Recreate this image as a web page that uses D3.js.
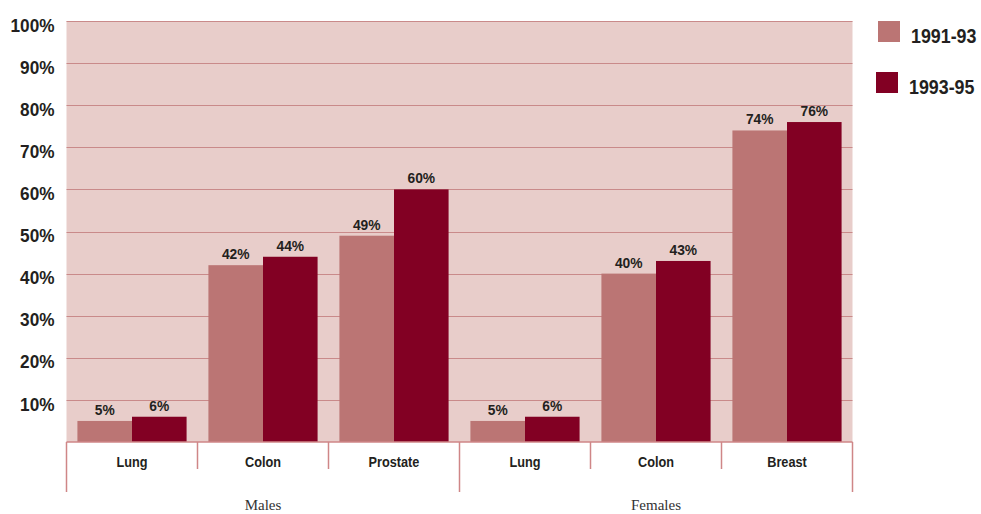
<!DOCTYPE html>
<html>
<head>
<meta charset="utf-8">
<script src="https://cdn.jsdelivr.net/npm/d3@7"></script>
<style>
  html, body { margin: 0; padding: 0; background: #ffffff; }
  svg { display: block; }
  .cond { font-family: "Liberation Sans", Arial, Helvetica, sans-serif; font-weight: bold; fill: #231f20; }
  .serif { font-family: "Liberation Serif", "Times New Roman", serif; fill: #333333; }
</style>
</head>
<body>
<svg id="chart" width="981" height="514"></svg>
<script>
// Survival rates by site, two periods
const categories = ["Lung", "Colon", "Prostate", "Lung", "Colon", "Breast"];
const groups = [
  { name: "Males", from: 0, to: 2 },
  { name: "Females", from: 3, to: 5 }
];
const seriesNames = ["1991-93", "1993-95"];
const values1991 = [5, 42, 49, 5, 40, 74];
const values1993 = [6, 44, 60, 6, 43, 76];
const yTicks = [10, 20, 30, 40, 50, 60, 70, 80, 90, 100];

const colors = ["#bb7574", "#820023"];
const plotBg = "#e8cdca";
const gridColor = "#c98a8a";
const sepColor = "#cf8687";

// narrow the bold face horizontally to a condensed look
function condense(sel, f) {
  sel.each(function () {
    const w = this.getComputedTextLength();
    d3.select(this).attr("textLength", w * f).attr("lengthAdjust", "spacingAndGlyphs");
  });
}

const svg = d3.select("#chart");
const margin = { left: 66.5, right: 128.5, top: 21, bottom: 72 };
const W = 981, H = 514;
const x0 = margin.left, x1 = W - margin.right;
const yTop = margin.top, yBot = H - margin.bottom;

const keys = categories.map((c, i) => i);
const x = d3.scaleBand().domain(keys).range([x0, x1]).paddingInner(0).paddingOuter(0);
const inner = d3.scaleBand().domain([0, 1]).range([0, x.bandwidth()]).paddingOuter(0.2).paddingInner(0);
const y = d3.scaleLinear().domain([0, 100]).range([yBot, yTop]);

// plot background
svg.append("rect")
  .attr("x", x0).attr("y", yTop)
  .attr("width", x1 - x0).attr("height", yBot - yTop)
  .attr("fill", plotBg);

// gridlines
svg.append("g").selectAll("line")
  .data(yTicks)
  .join("line")
  .attr("x1", x0).attr("x2", x1)
  .attr("y1", d => Math.round(y(d)) + 0.5).attr("y2", d => Math.round(y(d)) + 0.5)
  .attr("stroke", gridColor).attr("stroke-width", 1.2);

// y axis labels
const yAxis = d3.axisLeft(y).tickValues(yTicks).tickFormat(d => d + "%").tickSize(0).tickPadding(12);
const yg = svg.append("g").attr("transform", `translate(${x0},0)`).call(yAxis);
yg.select(".domain").remove();
yg.selectAll("text")
  .attr("class", "cond")
  .attr("font-size", 18.5)
  .attr("dy", "0.55em")
  .call(condense, 0.93);

// bars
const series = [values1991, values1993];
const barData = [];
keys.forEach(i => {
  series.forEach((vals, s) => barData.push({ i, s, v: vals[i] }));
});

svg.append("g").selectAll("rect")
  .data(barData)
  .join("rect")
  .attr("x", d => x(d.i) + inner(d.s))
  .attr("width", inner.bandwidth())
  .attr("y", d => y(d.v))
  .attr("height", d => y(0) - y(d.v))
  .attr("fill", d => colors[d.s]);

// value labels
svg.append("g").selectAll("text")
  .data(barData)
  .join("text")
  .attr("class", "cond")
  .attr("font-size", 15)
  .attr("text-anchor", "middle")
  .attr("x", d => x(d.i) + inner(d.s) + inner.bandwidth() / 2)
  .attr("y", d => y(d.v) - 6)
  .text(d => d.v + "%")
  .call(condense, 0.92);

// baseline
svg.append("line")
  .attr("x1", x0).attr("x2", x1)
  .attr("y1", yBot).attr("y2", yBot)
  .attr("stroke", sepColor).attr("stroke-width", 1.5);

// category separators
const catEdges = keys.map(i => x(i)).concat([x1]);
const groupEdges = new Set([x(groups[0].from), x(groups[1].from), x1]);
svg.append("g").selectAll("line")
  .data(catEdges)
  .join("line")
  .attr("x1", d => d).attr("x2", d => d)
  .attr("y1", yBot)
  .attr("y2", d => groupEdges.has(d) ? yBot + 50 : yBot + 27)
  .attr("stroke", sepColor).attr("stroke-width", 1.5);

// category labels
svg.append("g").selectAll("text")
  .data(keys)
  .join("text")
  .attr("class", "cond")
  .attr("font-size", 15.5)
  .attr("text-anchor", "middle")
  .attr("x", i => x(i) + x.bandwidth() / 2)
  .attr("y", yBot + 25)
  .text(i => categories[i])
  .call(condense, 0.82);

// group labels
svg.append("g").selectAll("text")
  .data(groups)
  .join("text")
  .attr("class", "serif")
  .attr("font-size", 15)
  .attr("text-anchor", "middle")
  .attr("x", g => (x(g.from) + x(g.to) + x.bandwidth()) / 2)
  .attr("y", yBot + 68)
  .text(g => g.name);

// legend
const legend = svg.append("g");
const legendY = [21, 72];
const legendX = [878, 876];
seriesNames.forEach((name, s) => {
  legend.append("rect")
    .attr("x", legendX[s]).attr("y", legendY[s])
    .attr("width", 22).attr("height", 21)
    .attr("fill", colors[s]);
  legend.append("g")
    .attr("transform", `translate(${legendX[s] + 33},${legendY[s] + 22}) scale(0.85,1)`)
    .append("text")
    .attr("class", "cond")
    .attr("font-size", 21)
    .attr("x", 0)
    .attr("y", 0)
    .text(name);
});
</script>
</body>
</html>
